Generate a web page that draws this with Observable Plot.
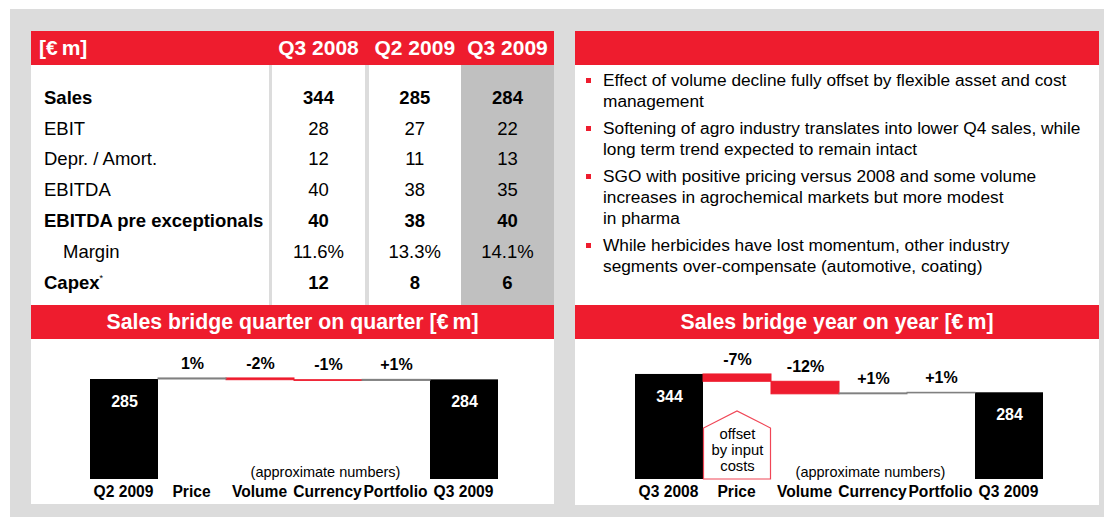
<!DOCTYPE html>
<html><head><meta charset="utf-8">
<script src="https://cdn.jsdelivr.net/npm/d3@7"></script>
<script src="https://cdn.jsdelivr.net/npm/@observablehq/plot@0.6"></script>
<style>
body{margin:0;background:#fff;font-family:"Liberation Sans",Arial,sans-serif;color:#000;}
#page{position:relative;width:1104px;height:517px;overflow:hidden;background:#fff;}
.a{position:absolute;box-sizing:border-box;}
.red{background:#ee1c2e;color:#fff;font-weight:bold;}
.white{background:#fff;}
.eur{margin-right:4px;}
svg{overflow:visible;}
</style></head><body><div id="page"></div>
<script>
// ---------------- data ----------------
const tableUnit = "[€m]";
const tableColumns = ["Q3 2008", "Q2 2009", "Q3 2009"];
const rowLabels = ["Sales", "EBIT", "Depr. / Amort.", "EBITDA", "EBITDA pre exceptionals", "Margin", "Capex"];
const rowBold = [true, false, false, false, true, false, true];
const rowIndent = [false, false, false, false, false, true, false];
const rowNote = ["", "", "", "", "", "", "*"];
const valuesQ3_2008 = ["344", "28", "12", "40", "40", "11.6%", "12"];
const valuesQ2_2009 = ["285", "27", "11", "38", "38", "13.3%", "8"];
const valuesQ3_2009 = ["284", "22", "13", "35", "40", "14.1%", "6"];

const bullets = [
  ["Effect of volume decline fully offset by flexible asset and cost", "management"],
  ["Softening of agro industry translates into lower Q4 sales, while", "long term trend expected to remain intact"],
  ["SGO with positive pricing versus 2008 and some volume", "increases in agrochemical markets but more modest", "in pharma"],
  ["While herbicides have lost momentum, other industry", "segments over-compensate (automotive, coating)"]
];

const qoqTitle = "Sales bridge quarter on quarter [€m]";
const qoqCategories = ["Q2 2009", "Price", "Volume", "Currency", "Portfolio", "Q3 2009"];
const qoqValues = [285, 3, -5, -2, 3, 284];
const qoqLabels = ["285", "1%", "-2%", "-1%", "+1%", "284"];

const yoyTitle = "Sales bridge year on year [€m]";
const yoyCategories = ["Q3 2008", "Price", "Volume", "Currency", "Portfolio", "Q3 2009"];
const yoyValues = [344, -24, -41, 3, 2, 284];
const yoyLabels = ["344", "-7%", "-12%", "+1%", "+1%", "284"];

const noteText = "(approximate numbers)";
const calloutCategory = "Price";
const calloutText = "offset\nby input\ncosts";

// ---------------- layout ----------------
const RED = "#ee1c2e", GRAY = "#808080", FONT = '"Liberation Sans", Arial, sans-serif';
const page = document.getElementById("page");
function box(x, y, w, h, cls, css) {
  const d = document.createElement("div");
  d.className = "a " + (cls || "");
  Object.assign(d.style, {left: x + "px", top: y + "px", width: w + "px", height: h + "px"}, css || {});
  page.appendChild(d);
  return d;
}
function setUnitText(el, s) {
  const esc = s.replace(/&/g, "&amp;").replace(/</g, "&lt;");
  el.innerHTML = esc.replace("€", '<span class="eur">€</span>');
}
// background
box(10, 9, 1094, 508, "", {background: "#dcdcdc"});

// left panel: table
box(31, 31, 523, 34, "red");
const unit = box(39, 31, 120, 34, "", {color: "#fff", fontWeight: "bold", fontSize: "21px", display: "flex", alignItems: "center"});
setUnitText(unit, tableUnit);
const colLefts = [272, 368.6, 461];
const colWidths = [93, 92.4, 93];
tableColumns.forEach((c, i) => {
  const d = box(colLefts[i], 31, colWidths[i], 34, "", {color: "#fff", fontWeight: "bold", fontSize: "21px", display: "flex", alignItems: "center", justifyContent: "center", whiteSpace: "nowrap"});
  d.textContent = c;
});
box(31, 65, 523, 240, "white");
box(268.6, 65, 3.4, 240, "", {background: "#dcdcdc"});
box(365.2, 65, 3.4, 240, "", {background: "#dcdcdc"});
box(461, 65, 93, 240, "", {background: "#c0c0c0"});
const cols = [valuesQ3_2008, valuesQ2_2009, valuesQ3_2009];
rowLabels.forEach((lab, r) => {
  const cy = 97.7 + r * 30.83;
  const st = {fontSize: "18.5px", fontWeight: rowBold[r] ? "bold" : "normal", display: "flex", alignItems: "center", whiteSpace: "nowrap"};
  const l = box(rowIndent[r] ? 63 : 44, cy - 15, 230, 30, "", st);
  l.textContent = lab;
  if (rowNote[r]) {
    const s = document.createElement("sup");
    s.textContent = rowNote[r];
    Object.assign(s.style, {fontSize: "9px", fontWeight: "normal", alignSelf: "flex-start", marginTop: "5px"});
    l.appendChild(s);
  }
  cols.forEach((vals, c) => {
    const d = box(colLefts[c], cy - 15, colWidths[c], 30, "", Object.assign({}, st, {justifyContent: "center"}));
    d.textContent = vals[r];
  });
});

// right panel: bullets
box(575, 31, 524, 34, "red");
box(575, 65, 524, 240, "white");
let by = 69.5;
bullets.forEach(lines => {
  box(586, by + 8, 5, 5, "", {background: RED});
  const t = box(603, by, 490, lines.length * 21, "", {fontSize: "17.3px", lineHeight: "21px", whiteSpace: "nowrap"});
  t.innerHTML = lines.map(s => s.replace(/&/g, "&amp;")).join("<br>");
  by += lines.length * 21 + 6;
});

// bridge titles
const t1 = box(31, 305, 523, 34, "red", {fontSize: "21.3px", display: "flex", alignItems: "center", justifyContent: "center", whiteSpace: "pre"});
setUnitText(t1, qoqTitle);
const t2 = box(575, 305, 524, 34, "red", {fontSize: "21.3px", display: "flex", alignItems: "center", justifyContent: "center", whiteSpace: "pre"});
setUnitText(t2, yoyTitle);
box(31, 339, 523, 165, "white");
box(575, 339, 524, 166, "white");

// ---------------- waterfall charts ----------------
function bridge(cats, vals, labels) {
  let level = 0;
  return cats.map((c, i) => {
    const last = i === cats.length - 1;
    if (i === 0 || last) { level = vals[i]; return {cat: c, y1: 0, y2: vals[i], kind: "total", label: labels[i]}; }
    const s = level, e = level + vals[i];
    level = e;
    return {cat: c, y1: s, y2: e, kind: vals[i] < 0 ? "neg" : "pos", label: labels[i]};
  });
}

function waterfall(cats, vals, labels, width, ymax, callout) {
  const data = bridge(cats, vals, labels);
  const totals = data.filter(d => d.kind === "total");
  const deltas = data.filter(d => d.kind !== "total");
  const marks = [
    Plot.barY(totals, {x: "cat", y1: "y1", y2: "y2", fill: "#000", inset: 0}),
    Plot.barY(deltas.filter(d => d.kind === "neg"), {x: "cat", y1: "y1", y2: "y2", fill: RED, stroke: RED, strokeWidth: 1, inset: 0}),
    Plot.barY(deltas.filter(d => d.kind === "pos"), {x: "cat", y1: "y1", y2: "y2", fill: GRAY, stroke: GRAY, strokeWidth: 1, inset: 0}),
    Plot.text(totals, {x: "cat", y: "y2", text: "label", dy: 22, fill: "#fff", fontWeight: "bold", fontSize: 16}),
    Plot.text(deltas, {x: "cat", y: d => Math.max(d.y1, d.y2), text: "label", dy: -15, fill: "#000", fontWeight: "bold", fontSize: 16}),
    Plot.text([noteText], {x: () => "Currency", y: () => 0, text: d => d, dx: -3, dy: -7, fontSize: 14.5, fontWeight: "normal", fill: "#000"}),
    Plot.axisX({tickSize: 0, tickPadding: 6, fontSize: 15.6, fontWeight: "bold", label: null, fill: "#000", dx: -1})
  ];
  if (callout) {
    marks.push((index, scales) => {
      const x = scales.x;
      const bw = typeof x.bandwidth === "function" ? x.bandwidth() : x.bandwidth;
      const x0 = x(calloutCategory), x1 = x0 + bw, yb = scales.y(0);
      const g = d3.create("svg:g");
      g.append("path")
        .attr("d", `M${x0 + 0.5},${yb} L${x0 + 0.5},${yb - bw * 0.75} L${x0 + bw / 2},${yb - bw} L${x1 - 0.5},${yb - bw * 0.75} L${x1 - 0.5},${yb} Z`)
        .attr("fill", "#fff").attr("stroke", "#f04656").attr("stroke-width", 1.2);
      return g.node();
    });
    marks.push(Plot.text([calloutText], {x: () => calloutCategory, y: () => 0, text: d => d, dy: -30, fontSize: 14.8, lineHeight: 1.08, fontWeight: "normal", fill: "#000"}));
  }
  return Plot.plot({
    width, height: 165,
    marginLeft: 59, marginRight: 56, marginTop: 20, marginBottom: 25,
    x: {domain: cats, padding: 0, axis: null},
    y: {domain: [0, ymax], axis: null},
    style: {fontFamily: FONT, background: "transparent", color: "#000", overflow: "visible"},
    marks
  });
}

const c1 = waterfall(qoqCategories, qoqValues, qoqLabels, 523, 342, false);
const w1 = box(31, 339, 523, 165, "");
w1.appendChild(c1);
const c2 = waterfall(yoyCategories, yoyValues, yoyLabels, 524, 393, true);
const w2 = box(575, 339, 524, 165, "");
w2.appendChild(c2);
</script></body></html>
